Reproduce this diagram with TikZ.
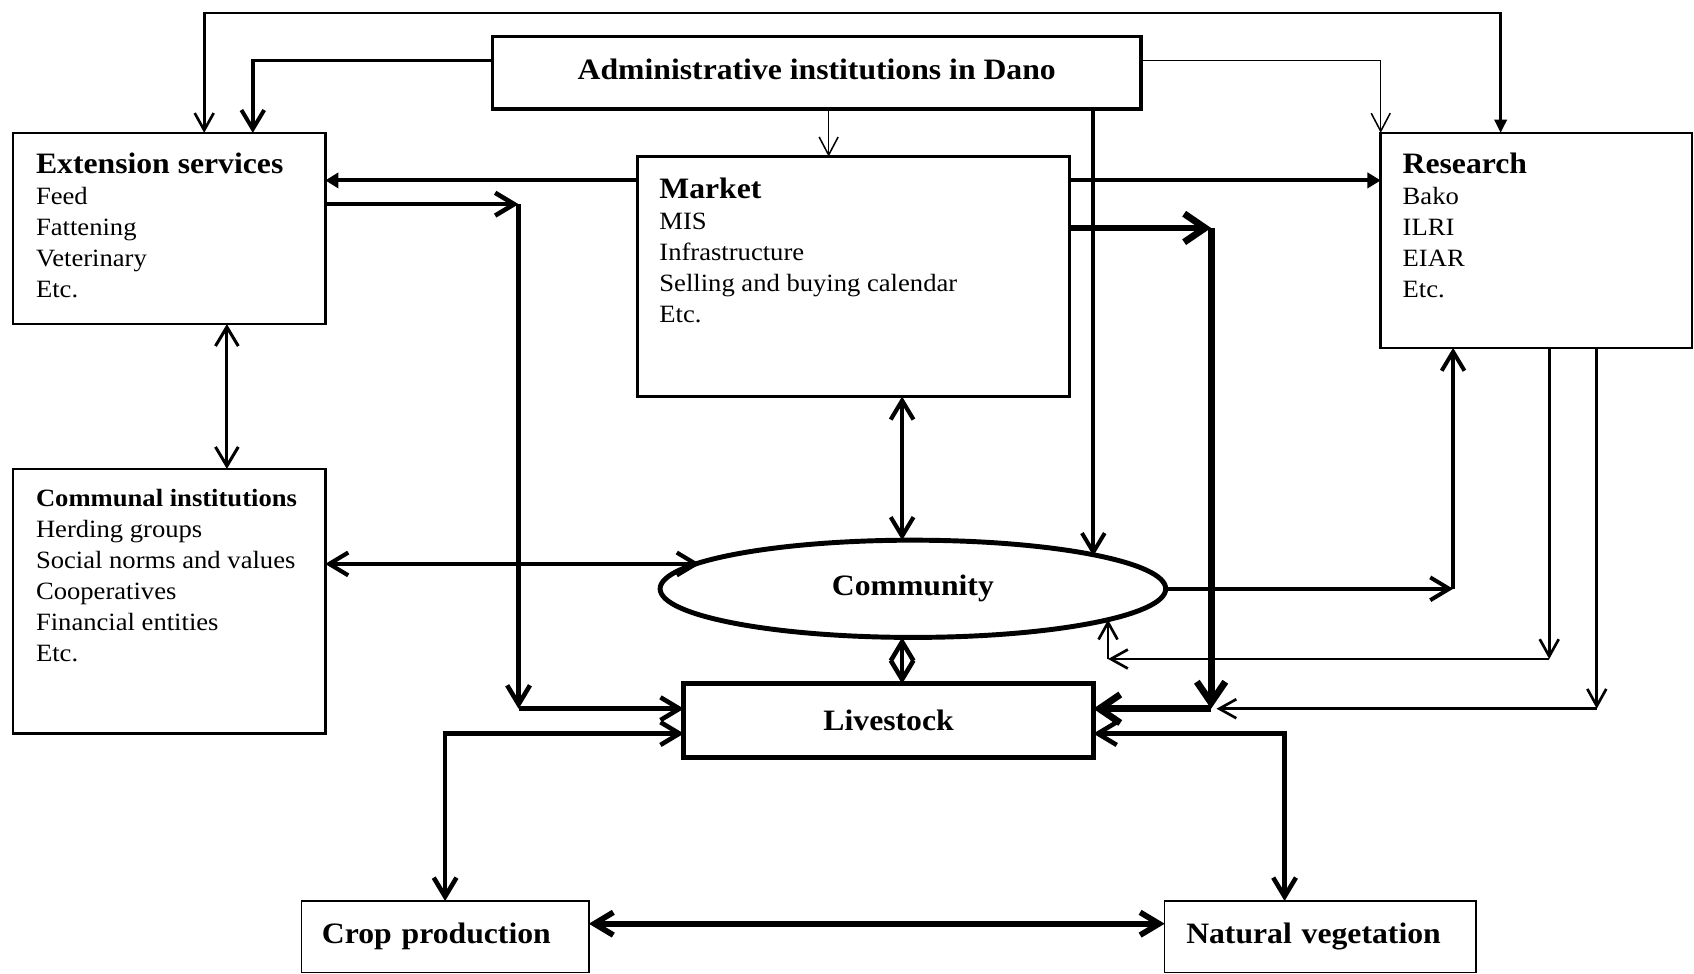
\documentclass[tikz,border=0pt]{standalone}
\usepackage{fontspec}
\setmainfont{Liberation Serif}[FakeStretch=1.07]
\usetikzlibrary{arrows.meta,calc,positioning,shapes.geometric}
\newcommand{\plainfnt}{\fontsize{13.1}{16.3}\selectfont}
\newcommand{\headfnt}{\fontsize{15.6}{16.3}\selectfont\bfseries}
\tikzset{%
	box/.style      = {draw, rectangle, line width=1.4pt, inner sep=0pt, outer sep=0pt},
	headbox/.style  = {box, font=\headfnt},
	boxtext/.style  = {align=left, inner sep=0pt, font=\plainfnt}, % list inside a box
	oval/.style     = {draw, ellipse, line width=2.6pt, inner sep=0pt, outer sep=0pt, font=\headfnt},
	waypoint/.style = {coordinate},
	thinlink/.style = {line width=0.8pt, -{Straight Barb[length=9.5pt,width=10pt]}},
	midlink/.style  = {line width=1.4pt, -{Straight Barb[length=9pt,width=10pt]}},
	link/.style     = {line width=2.1pt, -{Straight Barb[length=10pt,width=12pt]}},
	heavylink/.style= {line width=3.6pt, -{Straight Barb[length=11pt,width=15pt]}},
	solidlink/.style= {line width=2.1pt, -{Triangle[length=7pt,width=8pt]}},
	twoway/.style   = {line width=2.2pt, {Straight Barb[length=10pt,width=12pt]}-{Straight Barb[length=10pt,width=12pt]}},
}

\begin{document}
\begin{tikzpicture}
	\useasboundingbox (0,0) rectangle (31.36,-18.02);
	\node [box, minimum width=5.78cm, minimum height=3.54cm] (ext) at (3.13,-4.23) {};
	\node [box, minimum width=5.78cm, minimum height=4.9cm] (communal) [below=2.68cm of ext] {};
	\node [box, minimum width=5.76cm, minimum height=3.98cm] (research) [right=19.54cm of ext.north east, anchor=north west] {};
	\node [headbox, line width=1.8pt, minimum width=12cm, minimum height=1.34cm, text depth=0.14cm] (admin) [above right=0.44cm and 3.1cm of ext.north east, anchor=south west] {Administrative institutions in Dano};
	\node [box, minimum width=8cm, minimum height=4.44cm] (market) [below right=0.88cm and 2.68cm of admin.south west, anchor=north west] {};
	\node [oval, minimum width=9.36cm, minimum height=1.8cm] (community) [below right=2.66cm and 1.1cm of market.south, anchor=north] {Community};
	\node [headbox, line width=2.6pt, minimum width=7.58cm, minimum height=1.36cm] (livestock) [below=0.86cm of community, xshift=-0.45cm] {Livestock};
	\node [headbox, line width=0.8pt, minimum width=5.32cm, minimum height=1.32cm, text width=4.56cm, align=left] (crop) [below left=2.66cm and 7.08cm of livestock.south west, anchor=north west] {Crop production};
	\node [headbox, line width=0.8pt, minimum width=5.76cm, minimum height=1.32cm, text width=4.96cm, align=left] (veg) [right=10.66cm of crop] {Natural vegetation};

	\node [boxtext] (exttxt) [below right=0.37cm and 0.42cm of ext.north west] {{\headfnt Extension services}\\Feed\\Fattening\\Veterinary\\Etc.};
	\node [boxtext] (markettxt) [below right=0.39cm and 0.4cm of market.north west] {{\headfnt Market}\\MIS\\Infrastructure\\Selling and buying calendar\\Etc.};
	\node [boxtext] (researchtxt) [below right=0.36cm and 0.4cm of research.north west] {{\headfnt Research}\\Bako\\ILRI\\EIAR\\Etc.};
	\node [boxtext] (communaltxt) [below right=0.37cm and 0.42cm of communal.north west] {{\bfseries Communal institutions}\\Herding groups\\Social norms and values\\Cooperatives\\Financial entities\\Etc.};

	\node [waypoint] (looptop) [above=0.44cm of admin.north] {};
	\node [waypoint] (extbend) [right=3.58cm of ext.east, yshift=0.45cm] {};
	\node [waypoint] (mktbend) [right=2.62cm of market.east, yshift=0.9cm] {};
	\node [waypoint] (lsleft) [above=0.22cm of livestock.west] {};
	\node [waypoint] (lsright) [above=0.22cm of livestock.east] {};
	\node [waypoint] (commbelow) [below=0.4cm of community] {};

	\draw [line width=1.4pt, {Straight Barb[length=9pt,width=10pt]}-{Triangle[length=7pt,width=6.5pt]}] ([xshift=0.65cm]ext.north) |- (looptop) -| ([xshift=-0.66cm]research.north);
	\draw [link] ([yshift=0.23cm]admin.west) -| ([xshift=1.55cm]ext.north);
	\draw [thinlink] ([xshift=0.22cm]admin.south) -- ([xshift=0.22cm]admin.south |- market.north);
	\draw [thinlink] ([yshift=0.23cm]admin.east) -| (research.north west);
	\draw [link] ([xshift=5.12cm]admin.south) -- ([xshift=5.12cm]admin.south |- community.10.7);

	\draw [solidlink] ([yshift=1.78cm]market.west) -- ([yshift=1.78cm]market.west -| ext.east);
	\draw [solidlink] ([yshift=1.78cm]market.east) -- ([yshift=1.78cm]market.east -| research.west);

	\draw [link, line width=2.4pt] (ext.east |- extbend) -- (extbend);
	\draw [link, line width=2.4pt] (extbend) -- (extbend |- lsleft);
	\draw [link, line width=2.4pt] (extbend |- lsleft) -- (lsleft);

	\draw [heavylink] (market.east |- mktbend) -- (mktbend);
	\draw [heavylink] (mktbend) -- (mktbend |- lsright);
	\draw [heavylink] (mktbend |- lsright) -- (lsright);

	\draw [twoway, line width=1.6pt] ([xshift=1.07cm]ext.south) -- ([xshift=1.07cm]communal.north);
	\draw [twoway] ([xshift=0.9cm]market.south) -- ([xshift=0.9cm]market.south |- community.north);
	\draw [twoway] ([yshift=0.69cm]communal.east) -- ([yshift=0.69cm]communal.east -| community.173.5);
	\draw [twoway, line width=2.4pt] ([xshift=0.25cm]livestock.north) -- ([xshift=0.25cm]livestock.north |- community.south);

	\draw [link] (community.east) -- ([xshift=-1.54cm]research.south |- community.east);
	\draw [link] ([xshift=-1.54cm]research.south |- community.east) -- ([xshift=-1.54cm]research.south);

	\draw [midlink] ([xshift=0.24cm]research.south) -- ([xshift=0.24cm]research.south |- commbelow);
	\draw [midlink] ([xshift=0.24cm]research.south |- commbelow) -- (community.351.8 |- commbelow);
	\draw [midlink] (community.351.8 |- commbelow) -- (community.351.8);
	\draw [midlink] ([xshift=1.12cm]research.south) -- ([xshift=1.12cm]research.south |- lsright);
	\draw [midlink] ([xshift=1.12cm]research.south |- lsright) -- ([xshift=0.1cm]mktbend |- lsright);

	\draw [twoway, line width=2.4pt] ([yshift=-0.24cm]livestock.west) -| (crop.north);
	\draw [twoway, line width=2.4pt] ([yshift=-0.24cm]livestock.east) -| ([xshift=-0.66cm]veg.north);
	\draw [twoway, line width=3pt] ([yshift=0.24cm]crop.east) -- ([yshift=0.24cm]crop.east -| veg.west);
\end{tikzpicture}
\end{document}
